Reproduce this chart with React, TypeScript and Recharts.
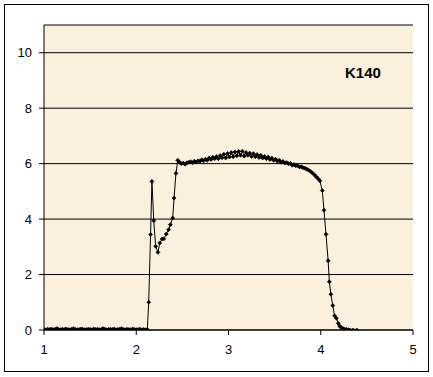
import React from "react";
import { LineChart, Line, XAxis, YAxis, CartesianGrid } from "recharts";

// baseline before the step (x 1.00 .. 2.12)
const baseX = [
  1.0, 1.02, 1.04, 1.06, 1.08, 1.1, 1.12, 1.14, 1.16, 1.18, 1.2, 1.22, 1.24, 1.26, 1.28, 1.3,
  1.32, 1.34, 1.36, 1.38, 1.4, 1.42, 1.44, 1.46, 1.48, 1.5, 1.52, 1.54, 1.56, 1.58, 1.6, 1.62,
  1.64, 1.66, 1.68, 1.7, 1.72, 1.74, 1.76, 1.78, 1.8, 1.82, 1.84, 1.86, 1.88, 1.9, 1.92, 1.94,
  1.96, 1.98, 2.0, 2.02, 2.04, 2.06, 2.08, 2.1, 2.12,
];
const baseY = [
  0.02, 0.01, 0.03, 0.02, 0.04, 0.01, 0.03, 0.05, 0.02, 0.01, 0.03, 0.02, 0.04, 0.02, 0.01, 0.03,
  0.05, 0.02, 0.01, 0.02, 0.04, 0.03, 0.01, 0.02, 0.03, 0.02, 0.01, 0.04, 0.02, 0.03, 0.01, 0.02,
  0.05, 0.03, 0.01, 0.02, 0.03, 0.02, 0.04, 0.01, 0.02, 0.03, 0.05, 0.02, 0.01, 0.03, 0.02, 0.01,
  0.04, 0.02, 0.01, 0.02, 0.03, 0.01, 0.02, 0.01, 0.02,
];

// spike and rise
const riseX = [2.135, 2.155, 2.17, 2.19, 2.21, 2.235, 2.255, 2.28, 2.3, 2.325, 2.35, 2.37, 2.395, 2.41, 2.43, 2.45];
const riseY = [1.0, 3.44, 5.36, 3.94, 3.02, 2.8, 3.14, 3.28, 3.29, 3.46, 3.62, 3.8, 4.04, 4.76, 5.65, 6.12];

// plateau
const plateauX = [
  2.47, 2.49, 2.51, 2.53, 2.55, 2.57, 2.59, 2.61, 2.63, 2.65, 2.67, 2.69, 2.71, 2.73, 2.75, 2.77,
  2.79, 2.81, 2.83, 2.85, 2.87, 2.89, 2.91, 2.93, 2.95, 2.97, 2.99, 3.01, 3.03, 3.05, 3.07, 3.09,
  3.11, 3.13, 3.15, 3.17, 3.19, 3.21, 3.23, 3.25, 3.27, 3.29, 3.31, 3.33, 3.35, 3.37, 3.39, 3.41,
  3.43, 3.45, 3.47, 3.49, 3.51, 3.53, 3.55, 3.57, 3.59, 3.61, 3.63, 3.65, 3.67, 3.69, 3.71, 3.73,
  3.75, 3.77, 3.79, 3.81, 3.83, 3.85, 3.87, 3.89, 3.91, 3.93, 3.95, 3.97, 3.99,
];
const plateauY = [
  6.05, 6.0, 6.02, 5.98, 6.03, 6.05, 6.07, 6.03, 6.09, 6.06, 6.1, 6.08, 6.14, 6.1, 6.16, 6.12,
  6.2, 6.15, 6.23, 6.18, 6.26, 6.18, 6.29, 6.21, 6.34, 6.2, 6.37, 6.24, 6.4, 6.25, 6.42, 6.28,
  6.44, 6.3, 6.45, 6.27, 6.4, 6.3, 6.38, 6.26, 6.36, 6.25, 6.33, 6.22, 6.3, 6.2, 6.26, 6.18,
  6.24, 6.15, 6.2, 6.12, 6.16, 6.09, 6.12, 6.05, 6.08, 6.02, 6.04, 6.0, 6.01, 5.94, 5.97, 5.92,
  5.93, 5.88, 5.89, 5.85, 5.83, 5.8, 5.76, 5.72, 5.66, 5.6, 5.53, 5.46, 5.38,
];

// fall back to zero
const fallX = [4.017, 4.035, 4.057, 4.08, 4.093, 4.11, 4.13, 4.15, 4.17, 4.19, 4.205, 4.22, 4.24, 4.26, 4.28, 4.3, 4.32, 4.35, 4.39];
const fallY = [5.03, 4.32, 3.45, 2.5, 1.74, 1.29, 0.88, 0.51, 0.42, 0.24, 0.14, 0.09, 0.06, 0.03, 0.02, 0.01, 0.0, 0.0, 0.0];

const xTicks = [1, 2, 3, 4, 5];
const yTicks = [0, 2, 4, 6, 8, 10];
const seriesLabel = "K140";

const allX = [...baseX, ...riseX, ...plateauX, ...fallX];
const allY = [...baseY, ...riseY, ...plateauY, ...fallY];
const data = allX.map((x, i) => ({ x, y: allY[i] }));

const Diamond = (props: any) => {
  const { cx, cy, index } = props;
  if (cx == null || cy == null) return <g key={index} />;
  const s = 2;
  return (
    <path
      key={index}
      d={`M${cx},${cy - s}L${cx + s},${cy}L${cx},${cy + s}L${cx - s},${cy}Z`}
      fill="#000"
      stroke="#000"
      strokeWidth={0.6}
    />
  );
};

const tickStyle = { fill: "#000", fontSize: 13, fontFamily: "Liberation Sans, Arial, sans-serif" };

export default function App() {
  return (
    <div style={{ position: "absolute", left: 0, top: 0, width: 433, height: 377, background: "#fff" }}>
      <div
        style={{
          position: "absolute",
          left: 4,
          top: 4,
          width: 423,
          height: 366,
          border: "1px solid #000",
        }}
      />
      <LineChart
        width={433}
        height={377}
        data={data}
        margin={{ top: 25, right: 20, left: 4, bottom: 17 }}
        style={{ position: "absolute", left: 0, top: 0 }}
      >
        <CartesianGrid vertical={false} stroke="#000" strokeWidth={1} fill="#FAF0DD" fillOpacity={1} />
        <XAxis
          dataKey="x"
          type="number"
          domain={[1, 5]}
          ticks={xTicks}
          height={30}
          tickSize={5}
          tickMargin={10}
          axisLine={{ stroke: "#000" }}
          tickLine={{ stroke: "#000" }}
          tick={tickStyle}
          allowDataOverflow
        />
        <YAxis
          type="number"
          domain={[0, 11]}
          ticks={yTicks}
          width={40}
          tickSize={5}
          tickMargin={7}
          axisLine={{ stroke: "#000" }}
          tickLine={{ stroke: "#000" }}
          tick={tickStyle}
          allowDataOverflow
        />
        <Line
          dataKey="y"
          type="linear"
          stroke="#000"
          strokeWidth={1}
          dot={<Diamond />}
          activeDot={false}
          isAnimationActive={false}
        />
      </LineChart>
      <div
        style={{
          position: "absolute",
          left: 345,
          top: 64,
          fontFamily: "Liberation Sans, Arial, sans-serif",
          fontSize: 15,
          fontWeight: "bold",
          color: "#000",
          lineHeight: "18px",
        }}
      >
        {seriesLabel}
      </div>
    </div>
  );
}
